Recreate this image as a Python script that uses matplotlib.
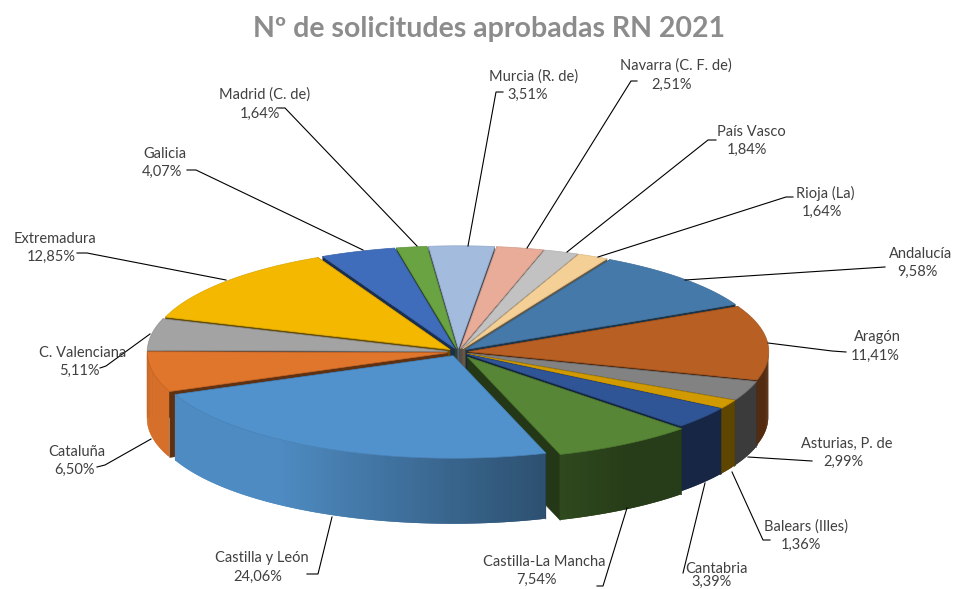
import numpy as np
import matplotlib
matplotlib.use("Agg")
import matplotlib.pyplot as plt
from matplotlib.colors import to_rgb
from matplotlib.collections import PolyCollection

names = ["Andalucía", "Aragón", "Asturias, P. de", "Balears (Illes)", "Cantabria",
         "Castilla-La Mancha", "Castilla y León", "Cataluña", "C. Valenciana",
         "Extremadura", "Galicia", "Madrid (C. de)", "Murcia (R. de)",
         "Navarra (C. F. de)", "País Vasco", "Rioja (La)"]
values = [9.58, 11.41, 2.99, 1.36, 3.39, 7.54, 24.06, 6.50, 5.11, 12.85, 4.07, 1.64,
          3.51, 2.51, 1.84, 1.64]
colors = ["#4479AA", "#B85F24", "#828282", "#D09A00", "#305596", "#568636", "#5292CC",
          "#E0752C", "#A3A3A3", "#F4B800", "#3F6DBB", "#69A342", "#A3BBDD", "#E8AC98",
          "#C2C2C2", "#F4CF96"]
title = "Nº de solicitudes aprobadas RN 2021"

# layout (pixels)
W, H = 955, 589
CX, CY = 457.5, 351.5
RX, RY = 300.0, 102.5
DEPTH = 66.0
EXPLODE = [0.036, 0.036, 0.036, 0.036, 0.036, 0.058, 0.04, 0.036,
           0.036, 0.036, 0.036, 0.036, 0.036, 0.036, 0.036, 0.036]
START = 30.0
WARP = np.radians(1.5)   # stands in for the perspective of the 3-D view

name_pos = [(921, 254), (877, 337), (847, 444), (806, 527), (716, 569), (544, 562),
            (262, 558), (77, 452), (83, 353), (55, 239), (165, 154), (265, 95),
            (534, 77), (676, 66), (751, 132), (825, 193)]
pct_pos = [(917, 272), (875, 356), (843, 462), (801, 545), (712, 582), (536, 580),
           (258, 577), (74, 470), (79, 371), (51, 257), (162, 172), (260, 114),
           (528, 95), (672, 85), (747, 150), (822, 212)]
leaders = [[(885, 267), (685, 280)],
           [(846, 352), (832, 351), (768, 343)],
           [(812, 461), (748, 457)],
           [(770, 540), (763, 540), (732, 472)],
           [(683, 573), (705, 483)],
           [(597, 586), (603, 586), (627, 508)],
           [(307, 574), (318, 574), (332, 517)],
           [(97, 467), (105, 465), (151, 439)],
           [(100, 368), (106, 366), (150, 334)],
           [(77, 253), (87, 253), (226, 280)],
           [(187, 170), (196, 170), (363, 250)],
           [(278, 108), (285, 108), (417, 246)],
           [(503, 92), (496, 92), (468, 246)],
           [(637, 81), (631, 81), (527, 248)],
           [(716, 140), (708, 140), (567, 252)],
           [(793, 197), (786, 197), (598, 257)]]

family = "Lato"

fig = plt.figure(figsize=(W / 100, H / 100), dpi=100, facecolor="white")
ax = fig.add_axes([0, 0, 1, 1])
ax.set_xlim(0, W)
ax.set_ylim(H, 0)
ax.axis("off")


def shade(c, f):
    return tuple(min(1, v * f) for v in to_rgb(c))


def wall_factor(s):
    return float(np.clip(0.70 - 0.45 * s, 0.45, 0.95))


def rim(ax0, ay0, t):
    tw = t - WARP * np.cos(t)
    return ax0 + RX * np.sin(tw), ay0 - RY * np.cos(tw)


edges = START + np.concatenate([[0], np.cumsum(values)]) / sum(values) * 360.0
wedges = []
for i, c in enumerate(colors):
    a, b = np.radians(edges[i]), np.radians(edges[i + 1])
    wedges.append((i, a, b, c, (a + b) / 2))

for i, a, b, c, m in sorted(wedges, key=lambda w: -np.cos(w[4])):
    ax0 = CX + RX * EXPLODE[i] * np.sin(m)
    ay0 = CY - RY * EXPLODE[i] * np.cos(m)
    # radial walls
    for t in (a, b):
        x, y = rim(ax0, ay0, t)
        ax.add_collection(PolyCollection(
            [[(ax0, ay0), (x, y), (x, y + DEPTH), (ax0, ay0 + DEPTH)]],
            facecolors=[shade(c, 0.42)], edgecolors=[shade(c, 0.42)], linewidths=0.3))
    # outer wall, split in narrow overlapping strips for the shading
    ts = np.linspace(a, b, max(3, int(np.degrees(b - a) * 1.5)))
    step = ts[1] - ts[0]
    polys, cols = [], []
    for t0, t1 in zip(ts[:-1], ts[1:]):
        mid = (t0 + t1) / 2
        if np.cos(mid) > 0.02:
            continue
        over = min(t1 + step, b)
        tq = np.linspace(t0, over, 4)
        xq, yq = rim(ax0, ay0, tq)
        poly = list(zip(xq, yq)) + list(zip(xq[::-1], yq[::-1] + DEPTH))
        polys.append(poly)
        cols.append(shade(c, wall_factor(np.sin(mid))))
    if polys:
        ax.add_collection(PolyCollection(polys, facecolors=cols, edgecolors="none", linewidths=0))
    # top face
    tt = np.linspace(a, b, 80)
    xs, ys = rim(ax0, ay0, tt)
    top = [(ax0, ay0)] + list(zip(xs, ys))
    ax.add_collection(PolyCollection([top], facecolors=[c], edgecolors=[shade(c, 0.9)], linewidths=0.5))

for pts in leaders:
    px, py = zip(*pts)
    ax.plot(px, py, color="black", lw=0.8, solid_joinstyle="miter")

for n, v, p, q in zip(names, values, name_pos, pct_pos):
    ax.text(p[0], p[1], n, ha="center", va="center", family=family, fontsize=10.5, color="#404040")
    ax.text(q[0], q[1], f"{v:.2f}%".replace(".", ","), ha="center", va="center",
            family=family, fontsize=10.5, color="#404040")

ax.text(489, 29, title, ha="center", va="center", family=family, weight="bold",
        fontsize=20.5, color="#8C8C8C")

fig.savefig("out.png", dpi=100, facecolor="white")
